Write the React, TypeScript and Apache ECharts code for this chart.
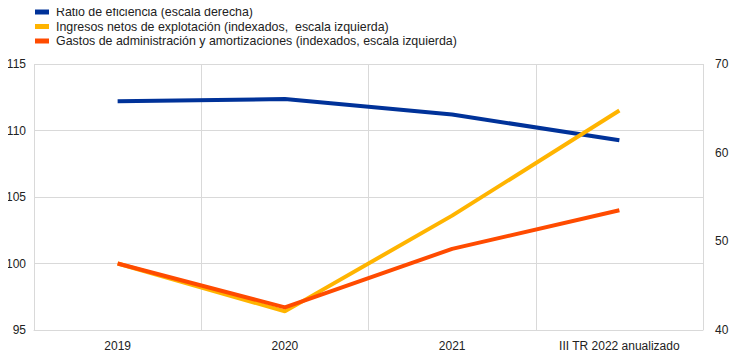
import React, { useEffect, useRef } from "react";
import * as echarts from "echarts";

const categories = ["2019", "2020", "2021", "III TR 2022 anualizado"];
const ratioEficiencia = [65.8, 66.05, 64.3, 61.4];
const ingresosNetos = [100, 96.4, 103.6, 111.5];
const gastosAdmin = [100, 96.7, 101.1, 104.0];

const seriesNames = [
  "Ratio de eficiencia (escala derecha)",
  "Ingresos netos de explotación (indexados,  escala izquierda)",
  "Gastos de administración y amortizaciones (indexados, escala izquierda)",
];

export default function App() {
  const ref = useRef<HTMLDivElement>(null);
  useEffect(() => {
    const chart = echarts.init(ref.current!, undefined, { renderer: "svg" });
    const font = "'Liberation Sans', Arial, sans-serif";
    chart.setOption({
      animation: false,
      textStyle: { fontFamily: font },
      legend: {
        orient: "vertical",
        left: 30,
        top: 1,
        itemWidth: 14,
        itemHeight: 5,
        itemGap: 2.5,
        icon: "rect",
        textStyle: { fontSize: 12.4, color: "#222", fontFamily: font, padding: [0, 0, 0, 2] },
        data: seriesNames,
      },
      grid: { left: 34, right: 39, top: 64, bottom: 28, containLabel: false },
      xAxis: {
        type: "category",
        data: categories,
        boundaryGap: true,
        axisTick: { show: false },
        axisLine: { lineStyle: { color: "#d9d9d9", width: 1 } },
        splitLine: { show: true, lineStyle: { color: "#d9d9d9", width: 1 } },
        axisLabel: { color: "#222", fontSize: 12, margin: 10, fontFamily: font },
      },
      yAxis: [
        {
          type: "value",
          min: 95,
          max: 115,
          interval: 5,
          position: "left",
          axisLine: { show: false },
          axisTick: { show: false },
          splitLine: { lineStyle: { color: "#d9d9d9", width: 1 } },
          axisLabel: { color: "#222", fontSize: 12, margin: 8, fontFamily: font },
        },
        {
          type: "value",
          min: 40,
          max: 70,
          interval: 10,
          position: "right",
          axisLine: { show: false },
          axisTick: { show: false },
          splitLine: { show: false },
          axisLabel: { color: "#222", fontSize: 12, margin: 12, fontFamily: font },
        },
      ],
      series: [
        {
          name: seriesNames[0],
          type: "line",
          yAxisIndex: 1,
          data: ratioEficiencia,
          symbol: "none",
          color: "#003299",
          lineStyle: { width: 4, color: "#003299" },
        },
        {
          name: seriesNames[1],
          type: "line",
          yAxisIndex: 0,
          data: ingresosNetos,
          symbol: "none",
          color: "#FFB400",
          lineStyle: { width: 4, color: "#FFB400" },
        },
        {
          name: seriesNames[2],
          type: "line",
          yAxisIndex: 0,
          data: gastosAdmin,
          symbol: "none",
          color: "#FF4B00",
          lineStyle: { width: 4, color: "#FF4B00" },
        },
      ],
    });
    return () => chart.dispose();
  }, []);
  return <div ref={ref} style={{ width: 742, height: 358, margin: -8 }} />;
}
